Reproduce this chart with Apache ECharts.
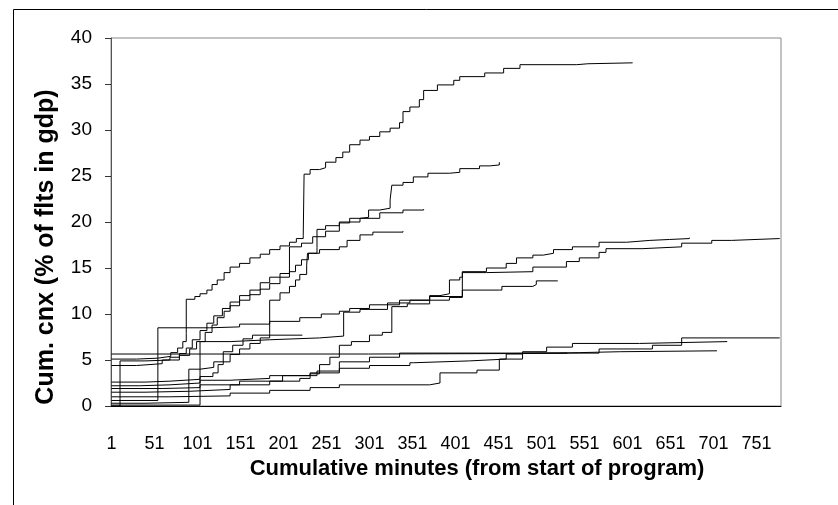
<!DOCTYPE html>
<html>
<head>
<meta charset="utf-8">
<script src="https://cdn.jsdelivr.net/npm/echarts@6/dist/echarts.min.js"></script>
<style>
  html, body { margin: 0; padding: 0; background: #fff; }
  #chart { width: 838px; height: 505px; }
</style>
</head>
<body>
<div id="chart"></div>
<script>
// Tick labels of the minute axis (one every 50 minutes)
const xTickLabels = [1, 51, 101, 151, 201, 251, 301, 351, 401, 451, 501, 551, 601, 651, 701, 751];

// Cumulative cancellations (% of flights in the GDP) per program,
// as [minute, value] steps.
const progA = [[1,5.1],[30,5.2],[55,5.4],[70,5.8],[78,6.3],[84,7.0],[88,7.9],[88,11.6],[98,11.9],[104,12.2],[112,12.6],[118,13.2],[124,13.7],[132,14.5],[139,15.1],[150,15.5],[162,16.1],[174,16.5],[185,17.0],[197,17.4],[208,17.8],[216,18.2],[224,18.5],[225,25.2],[232,25.7],[243,25.9],[250,26.5],[262,27.0],[270,27.6],[278,28.4],[290,28.9],[301,29.3],[313,29.8],[325,30.2],[336,30.8],[340,32.0],[348,32.5],[359,33.3],[364,34.3],[380,34.9],[399,35.4],[406,35.8],[435,36.2],[457,36.7],[476,37.1],[542,37.2],[555,37.3],[607,37.3]];
const progB = [[1,4.4],[30,4.6],[60,5.0],[80,5.5],[92,6.2],[100,7.0],[110,8.0],[118,8.8],[124,9.6],[132,10.3],[139,10.9],[150,11.5],[162,12.1],[174,12.7],[185,13.3],[197,14.0],[208,14.6],[215,15.3],[222,15.9],[230,16.6],[240,17.2],[240,19.2],[250,19.6],[266,19.9],[278,20.4],[290,20.5],[300,21.3],[313,21.5],[325,22.4],[327,24.0],[340,24.3],[352,24.9],[369,25.3],[394,25.4],[406,25.8],[429,26.1],[441,26.2],[452,26.5]];
const progC = [[1,0],[11,0],[11,4.9],[40,5.0],[69,5.3],[80,5.7],[88,6.3],[95,7.2],[104,8.2],[112,9.0],[120,9.8],[130,10.6],[139,11.3],[150,12.0],[162,12.6],[174,13.4],[185,14.0],[197,14.4],[208,14.6],[208,17.3],[222,17.7],[235,18.4],[250,19.0],[266,20.0],[290,20.4],[313,21.0],[340,21.3],[364,21.4]];
const progD = [[1,0.3],[40,0.4],[91,0.6],[91,4.0],[104,4.2],[120,4.8],[139,5.6],[150,6.2],[162,6.8],[174,7.4],[185,7.9],[185,11.5],[197,12.3],[208,13.0],[215,13.7],[220,14.3],[228,15.3],[229,16.6],[243,17.0],[266,17.3],[275,18.0],[290,18.6],[305,18.9],[340,19.0]];
const progE = [[1,0.6],[55,0.6],[55,8.5],[90,8.5],[115,8.6],[150,8.9],[185,9.2],[220,9.6],[245,10.0],[266,10.3],[278,10.6],[301,11.0],[336,11.5],[371,12.0],[383,12.2],[394,13.7],[406,14.0],[409,14.6],[437,15.0],[460,15.5],[472,16.1],[491,16.4],[503,16.6],[515,17.0],[537,17.3],[568,17.8],[600,18.0],[627,18.1],[650,18.2],[673,18.3]];
const progF = [[1,1.5],[40,1.6],[92,1.8],[139,2.3],[185,2.7],[220,3.0],[232,3.5],[243,4.5],[255,5.3],[266,6.6],[280,7.0],[301,7.7],[316,8.0],[327,8.6],[327,10.8],[345,11.1],[371,11.5],[394,11.8],[409,11.8],[409,14.5],[437,14.6],[491,15.1],[530,15.7],[545,16.1],[568,16.7],[576,17.1],[618,17.3],[664,17.7],[699,18.0],[722,18.2],[778,18.2]];
const progG = [[1,0.1],[104,0.1],[104,7.0],[139,7.2],[185,7.4],[243,7.6],[271,7.7],[271,10.2],[290,10.5],[322,11.2],[348,11.5],[371,11.9],[409,12.6],[452,12.6],[455,13.0],[491,13.2],[495,13.6],[520,13.6]];
const progH = [[1,2.6],[40,2.7],[69,2.9],[104,3.2],[119,3.6],[125,4.5],[131,5.9],[142,6.6],[154,7.3],[165,7.7],[223,7.7]];
const progI = [[1,1.0],[69,1.1],[139,1.4],[185,1.7],[232,2.0],[266,2.3],[371,2.5],[383,3.6],[426,3.9],[452,5.1],[479,5.75],[568,6.2],[630,6.6],[664,6.9],[664,7.4],[778,7.4]];
const progJ = [[1,2.2],[34,2.3],[69,2.5],[104,2.8],[139,3.0],[185,3.3],[232,3.6],[266,4.1],[301,4.4],[348,4.7],[352,4.9],[417,5.1],[460,5.65],[479,5.9],[507,6.4],[537,6.8],[615,7.0],[717,7.0]];
const progK = [[1,5.65],[150,5.65],[300,5.7],[460,5.75],[520,5.8],[545,5.9],[592,6.0],[705,6.0]];
const progL = [[1,1.9],[60,2.0],[104,2.3],[150,2.7],[200,3.3],[240,3.8],[266,4.8],[301,5.3],[336,5.75],[531,5.75]];

const programs = [progA, progB, progC, progD, progE, progF, progG, progH, progI, progJ, progK, progL];

const chart = echarts.init(document.getElementById('chart'), null, { renderer: 'canvas' });

chart.setOption({
  animation: false,
  grid: {
    left: 111, right: 57, top: 38, bottom: 99,
    show: true, borderColor: '#888', borderWidth: 1, backgroundColor: 'transparent'
  },
  xAxis: {
    type: 'value',
    min: 0.5,
    max: 779.5,
    axisLine: { show: true, lineStyle: { color: '#000', width: 1 } },
    axisTick: { show: false },
    splitLine: { show: false },
    axisLabel: {
      customValues: xTickLabels,
      fontFamily: 'Liberation Sans, Arial, sans-serif',
      fontSize: 18,
      color: '#000',
      margin: 29
    }
  },
  yAxis: {
    type: 'value',
    min: 0,
    max: 40,
    interval: 5,
    axisLine: { show: true, lineStyle: { color: '#555', width: 1 } },
    axisTick: { show: true, inside: false, length: 6, lineStyle: { color: '#333' } },
    splitLine: { show: false },
    axisLabel: {
      fontFamily: 'Liberation Sans, Arial, sans-serif',
      fontSize: 19,
      color: '#000',
      margin: 19
    }
  },
  series: programs.map(function (d) {
    return {
      type: 'line',
      step: 'end',
      data: d,
      symbol: 'none',
      silent: true,
      lineStyle: { color: '#000', width: 1 }
    };
  }),
  graphic: [
    {
      type: 'rect',
      silent: true,
      shape: { x: 13.5, y: 9.5, width: 900, height: 600 },
      style: { fill: 'none', stroke: '#000', lineWidth: 1 }
    },
    {
      type: 'text',
      silent: true,
      x: 477, y: 469,
      style: {
        text: 'Cumulative minutes (from start of program)',
        fontFamily: 'Liberation Sans, Arial, sans-serif',
        fontSize: 22, fontWeight: 'bold', fill: '#000',
        align: 'center', verticalAlign: 'middle',
        textAlign: 'center', textVerticalAlign: 'middle'
      }
    },
    {
      type: 'text',
      silent: true,
      x: 46, y: 247,
      rotation: Math.PI / 2,
      style: {
        text: 'Cum. cnx (% of flts in gdp)',
        fontFamily: 'Liberation Sans, Arial, sans-serif',
        fontSize: 25, fontWeight: 'bold', fill: '#000',
        align: 'center', verticalAlign: 'middle',
        textAlign: 'center', textVerticalAlign: 'middle'
      }
    }
  ]
});
</script>
</body>
</html>
